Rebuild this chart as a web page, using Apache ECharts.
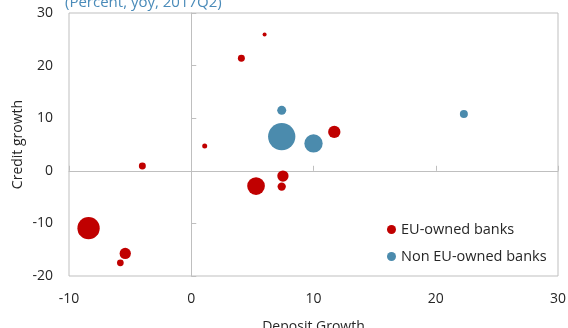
<!DOCTYPE html>
<html>
<head>
<meta charset="utf-8">
<script src="https://cdn.jsdelivr.net/npm/echarts@6/dist/echarts.min.js"></script>
<style>
  html, body { margin: 0; padding: 0; background: #fff; }
  #chart { width: 568px; height: 328px; }
</style>
</head>
<body>
<div id="chart"></div>
<script>
// Deposit growth (x) vs credit growth (y), percent yoy, 2017Q2
// Bubble weight: relative bank size (area of the bubble)
const euDeposit = [6.0, 4.1, 1.1, 11.7, 7.5, 5.3, 7.4, -4.0, -8.4, -5.4, -5.8];
const euCredit  = [25.9, 21.4, 4.7, 7.4, -1.0, -2.9, -3.0, 0.9, -10.9, -15.7, -17.5];
const euWeight  = [1.8, 5.4, 2.8, 16.8, 14.2, 34.8, 7.7, 5.4, 55.3, 14.2, 5.0];

const nonEuDeposit = [7.4, 7.4, 10.0, 22.3];
const nonEuCredit  = [11.5, 6.5, 5.2, 10.8];
const nonEuWeight  = [9.0, 82.8, 37.2, 7.1];

const xTicks = [-10, 0, 10, 20, 30];
const yTicks = [-20, -10, 0, 10, 20, 30];

const seriesNames = ['EU-owned banks', 'Non EU-owned banks'];
const titleText = '(Percent, yoy, 2017Q2)';
const xName = 'Deposit Growth';
const yName = 'Credit growth';

const RED = '#c00000';
const BLUE = '#4b8bad';
const GRAY = '#bfbfbf';
const FONT = 'Open Sans';

function toPoints(xs, ys, ws) {
  return xs.map((x, i) => [x, ys[i], ws[i]]);
}
function bubbleSize(d) {
  return Math.sqrt(d[2]) * 3;
}

const xMin = xTicks[0], xMax = xTicks[xTicks.length - 1];
const yMin = yTicks[0], yMax = yTicks[yTicks.length - 1];
const xStep = xTicks[1] - xTicks[0];
const yStep = yTicks[1] - yTicks[0];

const chart = echarts.init(document.getElementById('chart'), null, { renderer: 'canvas' });

chart.setOption({
  animation: false,
  backgroundColor: '#fff',
  textStyle: { fontFamily: FONT },
  title: {
    text: titleText,
    left: 60,
    top: -10,
    textStyle: { color: '#4a8bb9', fontSize: 15, fontWeight: 'normal', fontFamily: FONT }
  },
  grid: {
    show: true,
    left: 69,
    right: 10,
    top: 13,
    bottom: 52,
    borderColor: GRAY,
    borderWidth: 1,
    containLabel: false,
    outerBoundsMode: 'none'
  },
  legend: {
    orient: 'vertical',
    left: 382,
    top: 217,
    itemWidth: 9,
    itemHeight: 9,
    itemGap: 12,
    icon: 'circle',
    textStyle: { fontSize: 14.5, color: '#262626', fontFamily: FONT },
    data: seriesNames
  },
  xAxis: [
    {
      type: 'value', min: xMin, max: xMax, interval: xStep,
      position: 'bottom',
      axisLine: { show: false, onZero: false },
      axisTick: { show: false },
      splitLine: { show: false },
      axisLabel: { margin: 16, fontSize: 14, color: '#262626', fontFamily: FONT },
      name: xName,
      nameLocation: 'middle',
      nameGap: 44,
      nameMoveOverlap: false,
      nameTextStyle: { fontSize: 14, color: '#262626', fontFamily: FONT }
    },
    {
      type: 'value', min: xMin, max: xMax, interval: xStep,
      position: 'top',
      axisLine: { show: true, onZero: true, onZeroAxisIndex: 0, lineStyle: { color: GRAY, width: 1 } },
      axisTick: { show: true, inside: false, length: 5, lineStyle: { color: GRAY } },
      axisLabel: { show: false },
      splitLine: { show: false }
    }
  ],
  yAxis: [
    {
      type: 'value', min: yMin, max: yMax, interval: yStep,
      position: 'left',
      axisLine: { show: false, onZero: false },
      axisTick: { show: false },
      splitLine: { show: false },
      axisLabel: { margin: 16, fontSize: 14, color: '#262626', fontFamily: FONT },
      name: yName,
      nameLocation: 'middle',
      nameGap: 44,
      nameMoveOverlap: false,
      nameRotate: 90,
      nameTextStyle: { fontSize: 14, color: '#262626', fontFamily: FONT }
    },
    {
      type: 'value', min: yMin, max: yMax, interval: yStep,
      position: 'right',
      axisLine: { show: true, onZero: true, onZeroAxisIndex: 0, lineStyle: { color: GRAY, width: 1 } },
      axisTick: { show: true, inside: false, length: 5, lineStyle: { color: GRAY } },
      axisLabel: { show: false },
      splitLine: { show: false }
    }
  ],
  series: [
    {
      name: seriesNames[0],
      type: 'scatter',
      xAxisIndex: 0,
      yAxisIndex: 0,
      data: toPoints(euDeposit, euCredit, euWeight),
      symbolSize: bubbleSize,
      itemStyle: { color: RED, opacity: 1 }
    },
    {
      name: seriesNames[1],
      type: 'scatter',
      xAxisIndex: 0,
      yAxisIndex: 0,
      data: toPoints(nonEuDeposit, nonEuCredit, nonEuWeight),
      symbolSize: bubbleSize,
      itemStyle: { color: BLUE, opacity: 1 }
    }
  ]
});
</script>
</body>
</html>
